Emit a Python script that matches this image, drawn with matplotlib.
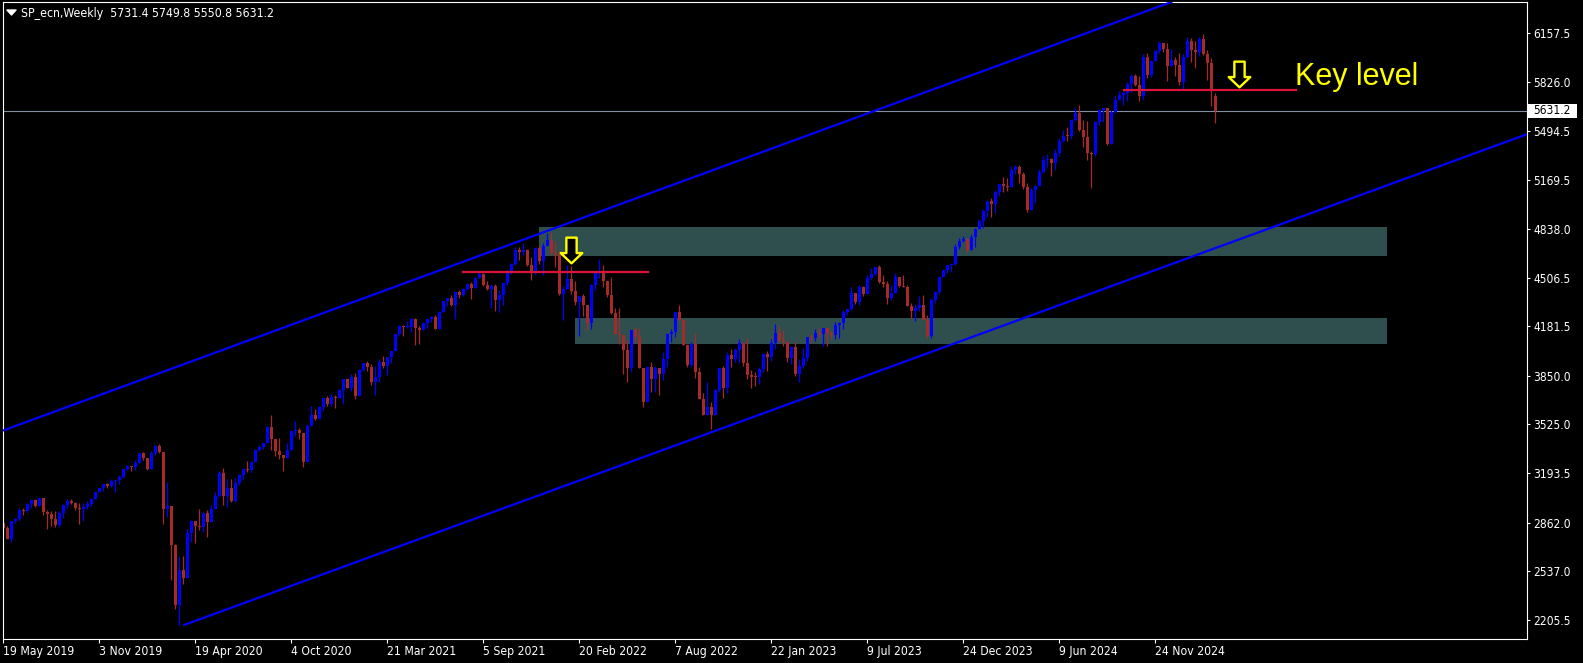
import pandas as pd
import matplotlib.pyplot as plt
import matplotlib.transforms as mtransforms
from matplotlib.path import Path
from matplotlib.patches import Rectangle
from matplotlib.lines import Line2D

plt.rcParams['font.family'] = ['DejaVu Sans']
plt.rcParams['font.stretch'] = 'condensed'

# ---- data: weekly S&P CFD bars ----
symbol = "SP_ecn,Weekly"
first_week = "2019-05-19"
first_open = 2859.5
last_bar = [5731.4, 5749.8, 5550.8, 5631.2]   # O H L C of the running week

close_2019 = [2826, 2752, 2873, 2887, 2950, 2942, 2990, 3014, 2977, 3026,
              2932, 2919, 2889, 2847, 2926, 2979, 3007, 2992, 2962, 2952,
              2970, 2986, 3023, 3067, 3093, 3120, 3110, 3141, 3146, 3169,
              3221, 3240]
high_2019 = [2868, 2841, 2876, 2895, 2964, 2958, 2996, 3017, 3018, 3028,
             3028, 2944, 2943, 2939, 2940, 2985, 3021, 3022, 3002, 2993,
             2993, 3008, 3027, 3067, 3098, 3121, 3127, 3154, 3150, 3183,
             3226, 3248]
low_2019 = [2800, 2750, 2729, 2861, 2880, 2912, 2935, 2963, 2970, 2975,
            2914, 2822, 2840, 2834, 2835, 2892, 2964, 2985, 2946, 2856,
            2874, 2952, 2976, 3020, 3067, 3078, 3092, 3104, 3070, 3123,
            3165, 3215]

close_2020 = [3235, 3265, 3330, 3295, 3226, 3328, 3380, 3338, 2954, 2972,
              2711, 2305, 2541, 2489, 2790, 2875, 2837, 2831, 2930, 2864,
              2955, 3044, 3194, 3041, 3098, 3009, 3130, 3185, 3225, 3216,
              3271, 3351, 3373, 3397, 3508, 3427, 3341, 3319, 3298, 3348,
              3477, 3484, 3465, 3270, 3509, 3585, 3558, 3638, 3699, 3663,
              3709, 3703, 3756]
high_2020 = [3246, 3282, 3330, 3338, 3287, 3347, 3385, 3393, 3338, 3137,
             2883, 2718, 2637, 2641, 2819, 2880, 2871, 2955, 2934, 2945,
             2980, 3069, 3211, 3233, 3155, 3154, 3165, 3191, 3233, 3280,
             3280, 3352, 3387, 3399, 3510, 3588, 3425, 3429, 3320, 3398,
             3483, 3549, 3502, 3466, 3529, 3646, 3629, 3644, 3701, 3712,
             3726, 3724, 3760]
low_2020 = [3212, 3214, 3263, 3281, 3214, 3222, 3315, 3328, 2855, 2902,
            2478, 2281, 2174, 2447, 2505, 2729, 2727, 2816, 2798, 2767,
            2870, 2955, 3038, 2984, 2966, 3004, 2999, 3115, 3153, 3201,
            3200, 3284, 3347, 3355, 3406, 3349, 3310, 3292, 3210, 3297,
            3360, 3442, 3425, 3234, 3280, 3511, 3554, 3595, 3614, 3648,
            3647, 3636, 3723]

close_2021 = [3825, 3768, 3841, 3714, 3887, 3935, 3907, 3811, 3842, 3943,
              3913, 3975, 4020, 4129, 4185, 4180, 4181, 4233, 4174, 4156,
              4204, 4230, 4247, 4166, 4281, 4352, 4370, 4327, 4412, 4395,
              4437, 4468, 4442, 4509, 4535, 4459, 4433, 4455, 4357, 4391,
              4471, 4545, 4605, 4698, 4683, 4698, 4595, 4538, 4712, 4621,
              4726, 4766]
high_2021 = [3827, 3819, 3860, 3870, 3894, 3937, 3950, 3928, 3915, 3960,
             3983, 3978, 4020, 4129, 4191, 4194, 4218, 4238, 4236, 4188,
             4214, 4233, 4249, 4257, 4287, 4356, 4372, 4394, 4415, 4430,
             4441, 4470, 4480, 4513, 4546, 4540, 4485, 4466, 4466, 4430,
             4475, 4560, 4608, 4718, 4714, 4743, 4705, 4652, 4713, 4731,
             4740, 4808]
low_2021 = [3663, 3765, 3750, 3694, 3725, 3884, 3885, 3789, 3723, 3805,
            3901, 3854, 3939, 4034, 4119, 4116, 4171, 4142, 4057, 4061,
            4156, 4168, 4212, 4165, 4165, 4276, 4321, 4322, 4234, 4371,
            4385, 4425, 4367, 4444, 4509, 4456, 4427, 4306, 4288, 4279,
            4329, 4460, 4536, 4596, 4631, 4665, 4585, 4495, 4532, 4600,
            4531, 4725]

close_2022 = [4677, 4663, 4398, 4432, 4501, 4419, 4349, 4385, 4329, 4204,
              4463, 4543, 4546, 4488, 4393, 4272, 4132, 4123, 4024, 3901,
              4158, 4109, 3901, 3675, 3912, 3825, 3899, 3863, 3962, 4130,
              4145, 4280, 4228, 4058, 3924, 4067, 3873, 3693, 3586, 3640,
              3583, 3753, 3901, 3771, 3993, 3965, 4026, 4072, 3934, 3852,
              3845, 3840]
high_2022 = [4819, 4749, 4691, 4453, 4596, 4590, 4490, 4387, 4402, 4327,
             4465, 4547, 4637, 4593, 4471, 4513, 4308, 4308, 4081, 4090,
             4159, 4178, 4169, 3901, 3914, 3945, 3918, 3887, 4013, 4140,
             4167, 4281, 4325, 4231, 4067, 4077, 4140, 3906, 3736, 3807,
             3674, 3763, 3905, 3919, 4009, 4029, 4034, 4100, 4076, 4101,
             3889, 3878]
low_2022 = [4662, 4582, 4395, 4223, 4436, 4401, 4327, 4115, 4253, 4157,
            4162, 4425, 4507, 4450, 4381, 4268, 4129, 4063, 3859, 3811,
            3875, 4073, 3900, 3637, 3705, 3741, 3743, 3722, 3819, 3911,
            4079, 4112, 4218, 4058, 3907, 3907, 3838, 3693, 3584, 3611,
            3492, 3590, 3741, 3699, 3736, 3906, 3945, 3938, 3918, 3828,
            3765, 3783]

close_2023 = [3895, 3999, 3973, 4071, 4136, 4090, 4079, 3970, 4046, 3862,
              3917, 3971, 4109, 4105, 4138, 4134, 4169, 4136, 4124, 4192,
              4205, 4282, 4299, 4410, 4348, 4450, 4399, 4505, 4536, 4582,
              4478, 4464, 4370, 4406, 4516, 4457, 4450, 4320, 4288, 4309,
              4328, 4224, 4117, 4358, 4415, 4514, 4559, 4595, 4604, 4719,
              4755, 4770]
high_2023 = [3906, 4003, 4015, 4095, 4195, 4182, 4156, 4084, 4049, 4079,
             3964, 4039, 4110, 4133, 4164, 4170, 4170, 4167, 4154, 4213,
             4212, 4290, 4299, 4448, 4409, 4458, 4456, 4528, 4578, 4582,
             4595, 4527, 4490, 4459, 4541, 4516, 4527, 4462, 4338, 4330,
             4386, 4393, 4256, 4374, 4418, 4521, 4561, 4598, 4610, 4738,
             4779, 4793]
low_2023 = [3794, 3877, 3885, 3949, 4029, 4080, 4048, 3944, 3928, 3847,
            3808, 3902, 3951, 4069, 4086, 4114, 4049, 4048, 4099, 4099,
            4104, 4167, 4261, 4293, 4336, 4329, 4385, 4401, 4498, 4526,
            4474, 4446, 4335, 4357, 4415, 4447, 4448, 4316, 4238, 4216,
            4284, 4223, 4104, 4104, 4342, 4403, 4515, 4538, 4546, 4597,
            4700, 4751]

close_2024 = [4697, 4784, 4840, 4891, 4959, 5027, 5006, 5089, 5137, 5124,
              5117, 5234, 5254, 5204, 5123, 4967, 5100, 5128, 5223, 5303,
              5305, 5278, 5347, 5432, 5465, 5460, 5567, 5615, 5505, 5459,
              5347, 5344, 5554, 5635, 5648, 5408, 5626, 5703, 5738, 5751,
              5815, 5865, 5808, 5729, 5996, 5871, 5969, 6032, 6090, 6051,
              5931, 5971]
high_2024 = [4754, 4802, 4842, 4907, 4975, 5030, 5048, 5097, 5140, 5190,
             5179, 5262, 5265, 5265, 5222, 5147, 5114, 5131, 5240, 5326,
             5342, 5315, 5376, 5447, 5506, 5524, 5570, 5656, 5670, 5567,
             5566, 5360, 5564, 5643, 5651, 5651, 5636, 5734, 5767, 5765,
             5823, 5879, 5879, 5863, 6012, 6018, 5973, 6044, 6099, 6079,
             6085, 6050]
low_2024 = [4682, 4699, 4714, 4844, 4845, 4917, 4920, 4946, 5057, 5085,
            5092, 5131, 5204, 5147, 5108, 4954, 4969, 5011, 5142, 5211,
            5257, 5191, 5234, 5326, 5420, 5432, 5444, 5564, 5497, 5390,
            5303, 5110, 5328, 5540, 5560, 5403, 5406, 5615, 5704, 5674,
            5700, 5762, 5796, 5696, 5707, 5853, 5857, 5970, 6020, 6030,
            5833, 5933]

close_2025 = [5942, 5827, 5997, 6101, 6041, 6026, 6115, 6013, 5955, 5770]
high_2025 = [5993, 6021, 6014, 6128, 6120, 6101, 6128, 6147, 6043, 5986]
low_2025 = [5869, 5809, 5773, 5989, 5962, 5923, 6003, 6008, 5837, 5667]

tick_labels = ["19 May 2019", "3 Nov 2019", "19 Apr 2020", "4 Oct 2020",
               "21 Mar 2021", "5 Sep 2021", "20 Feb 2022", "7 Aug 2022",
               "22 Jan 2023", "9 Jul 2023", "24 Dec 2023", "9 Jun 2024",
               "24 Nov 2024"]
price_ticks = [2205.5, 2537.0, 2862.0, 3193.5, 3525.0, 3850.0, 4181.5,
               4506.5, 4838.0, 5169.5, 5494.5, 5826.0, 6157.5]

# drawn objects (bar index, price)
channel_upper = [(-0.15, 3481), (292.0, 6364)]
channel_lower = [(45.2, 2174), (380.85, 5474)]
zones = [(133.9, 345.9, 4657.6, 4850.6), (142.9, 345.9, 4063.7, 4238.5)]
levels = [(114.9, 161.2, 4550), (280.2, 323.2, 5772)]
arrows = [(141.9, 4694), (308.9, 5878)]
label_pos = (322.9, 5805)

# ---- assemble bars ----
closes = (close_2019 + close_2020 + close_2021 + close_2022 + close_2023
          + close_2024 + close_2025 + [last_bar[3]])
highs = (high_2019 + high_2020 + high_2021 + high_2022 + high_2023
         + high_2024 + high_2025 + [last_bar[1]])
lows = (low_2019 + low_2020 + low_2021 + low_2022 + low_2023
        + low_2024 + low_2025 + [last_bar[2]])
opens = [first_open] + closes[:-2] + [last_bar[0]]
highs = [max(h, o, c) for h, o, c in zip(highs, opens, closes)]
lows = [min(l, o, c) for l, o, c in zip(lows, opens, closes)]

weeks = pd.date_range(first_week, periods=len(closes), freq="7D")
week_names = [f"{d.day} {d:%b %Y}" for d in weeks]
tick_pos = [week_names.index(t) for t in tick_labels]

UP = "#0000ff"
DOWN = "#a52a2a"
W, H = 1583, 663

fig = plt.figure(figsize=(W / 100, H / 100), dpi=100, facecolor="black")
ax = fig.add_axes([2.7 / W, 1 - 639 / H, 1524 / W, 637 / H])
ax.set_facecolor("black")

for x0, x1, y0, y1 in zones:
    ax.add_patch(Rectangle((x0, y0), x1 - x0, y1 - y0, facecolor="#2f4f4f",
                           edgecolor="none", zorder=1))

ax.axhline(last_bar[3], color="#8090a0", lw=0.8, zorder=1.5)

x = list(range(len(closes)))
cols = [UP if c >= o else DOWN for o, c in zip(opens, closes)]
ax.vlines(x, lows, highs, colors=cols, lw=0.9, zorder=2)
bodies = [c - o if abs(c - o) >= 7 else 7 for o, c in zip(opens, closes)]
ax.bar(x, bodies, bottom=[min(o, c) if abs(c - o) < 7 else o for o, c in zip(opens, closes)],
       width=0.75, color=cols, linewidth=0, zorder=2.5)

ax.axline(channel_upper[0], channel_upper[1], color="#0000ff", lw=1.6, zorder=3)
ax.plot([p[0] for p in channel_lower], [p[1] for p in channel_lower],
        color="#0000ff", lw=1.6, zorder=3)

for x0, x1, y in levels:
    ax.plot([x0, x1], [y, y], color="#dc143c", lw=1.6, zorder=3.5)

arrow = Path([(-0.2, 0.5), (0.2, 0.5), (0.2, -0.1), (0.42, -0.1), (0, -0.5),
              (-0.42, -0.1), (-0.2, -0.1), (-0.2, 0.5)], closed=True)
ax.plot([a[0] for a in arrows], [a[1] for a in arrows], ls="none",
        marker=arrow, ms=18.5, mfc="black", mec="#ffff00", mew=1.7, zorder=4)

ax.text(label_pos[0], label_pos[1], "Key level", color="#ffff00",
        fontsize=22, family="Liberation Sans", fontstretch="normal",
        va="baseline", ha="left", zorder=4)

ax.set_xlim(-0.15, 380.85)
ax.set_ylim(2079.6, 6364)
for s in ax.spines.values():
    s.set_color("white")
    s.set_linewidth(0.8)

ax.yaxis.tick_right()
ax.set_yticks(price_ticks)
ax.set_yticklabels([f"{v:.1f}" for v in price_ticks])
ax.set_xticks(tick_pos)
ax.set_xticklabels(tick_labels, ha="left")
ax.tick_params(axis="y", colors="white", length=2.5, width=0.8, pad=2.5,
               labelsize=8.6)
ax.tick_params(axis="x", colors="white", length=3, width=0.8, pad=1.5,
               labelsize=8.7)

# current price tag
trans = mtransforms.blended_transform_factory(ax.transAxes, ax.transData)
ax.add_patch(Rectangle((1.0007, last_bar[3] - 45), 0.0322, 90, transform=trans,
                       facecolor="white", edgecolor="none", clip_on=False, zorder=5))
ax.text(1.0042, last_bar[3], f"{last_bar[3]:.1f}", transform=trans, color="black",
        fontsize=8.6, va="center", ha="left", clip_on=False, zorder=6)

# header
tri = Path([(-1, 0.55), (1, 0.55), (0, -0.55), (-1, 0.55)], closed=True)
fig.add_artist(Line2D([11 / W], [1 - 12.3 / H], transform=fig.transFigure,
                      marker=tri, ms=6.5, color="white", ls="none"))
fig.text(21.3 / W, 1 - 16.7 / H,
         f"{symbol}  " + " ".join(f"{v:.1f}" for v in last_bar),
         color="white", fontsize=8.8, va="baseline", ha="left")

fig.savefig("out.png", dpi=100, facecolor="black")
